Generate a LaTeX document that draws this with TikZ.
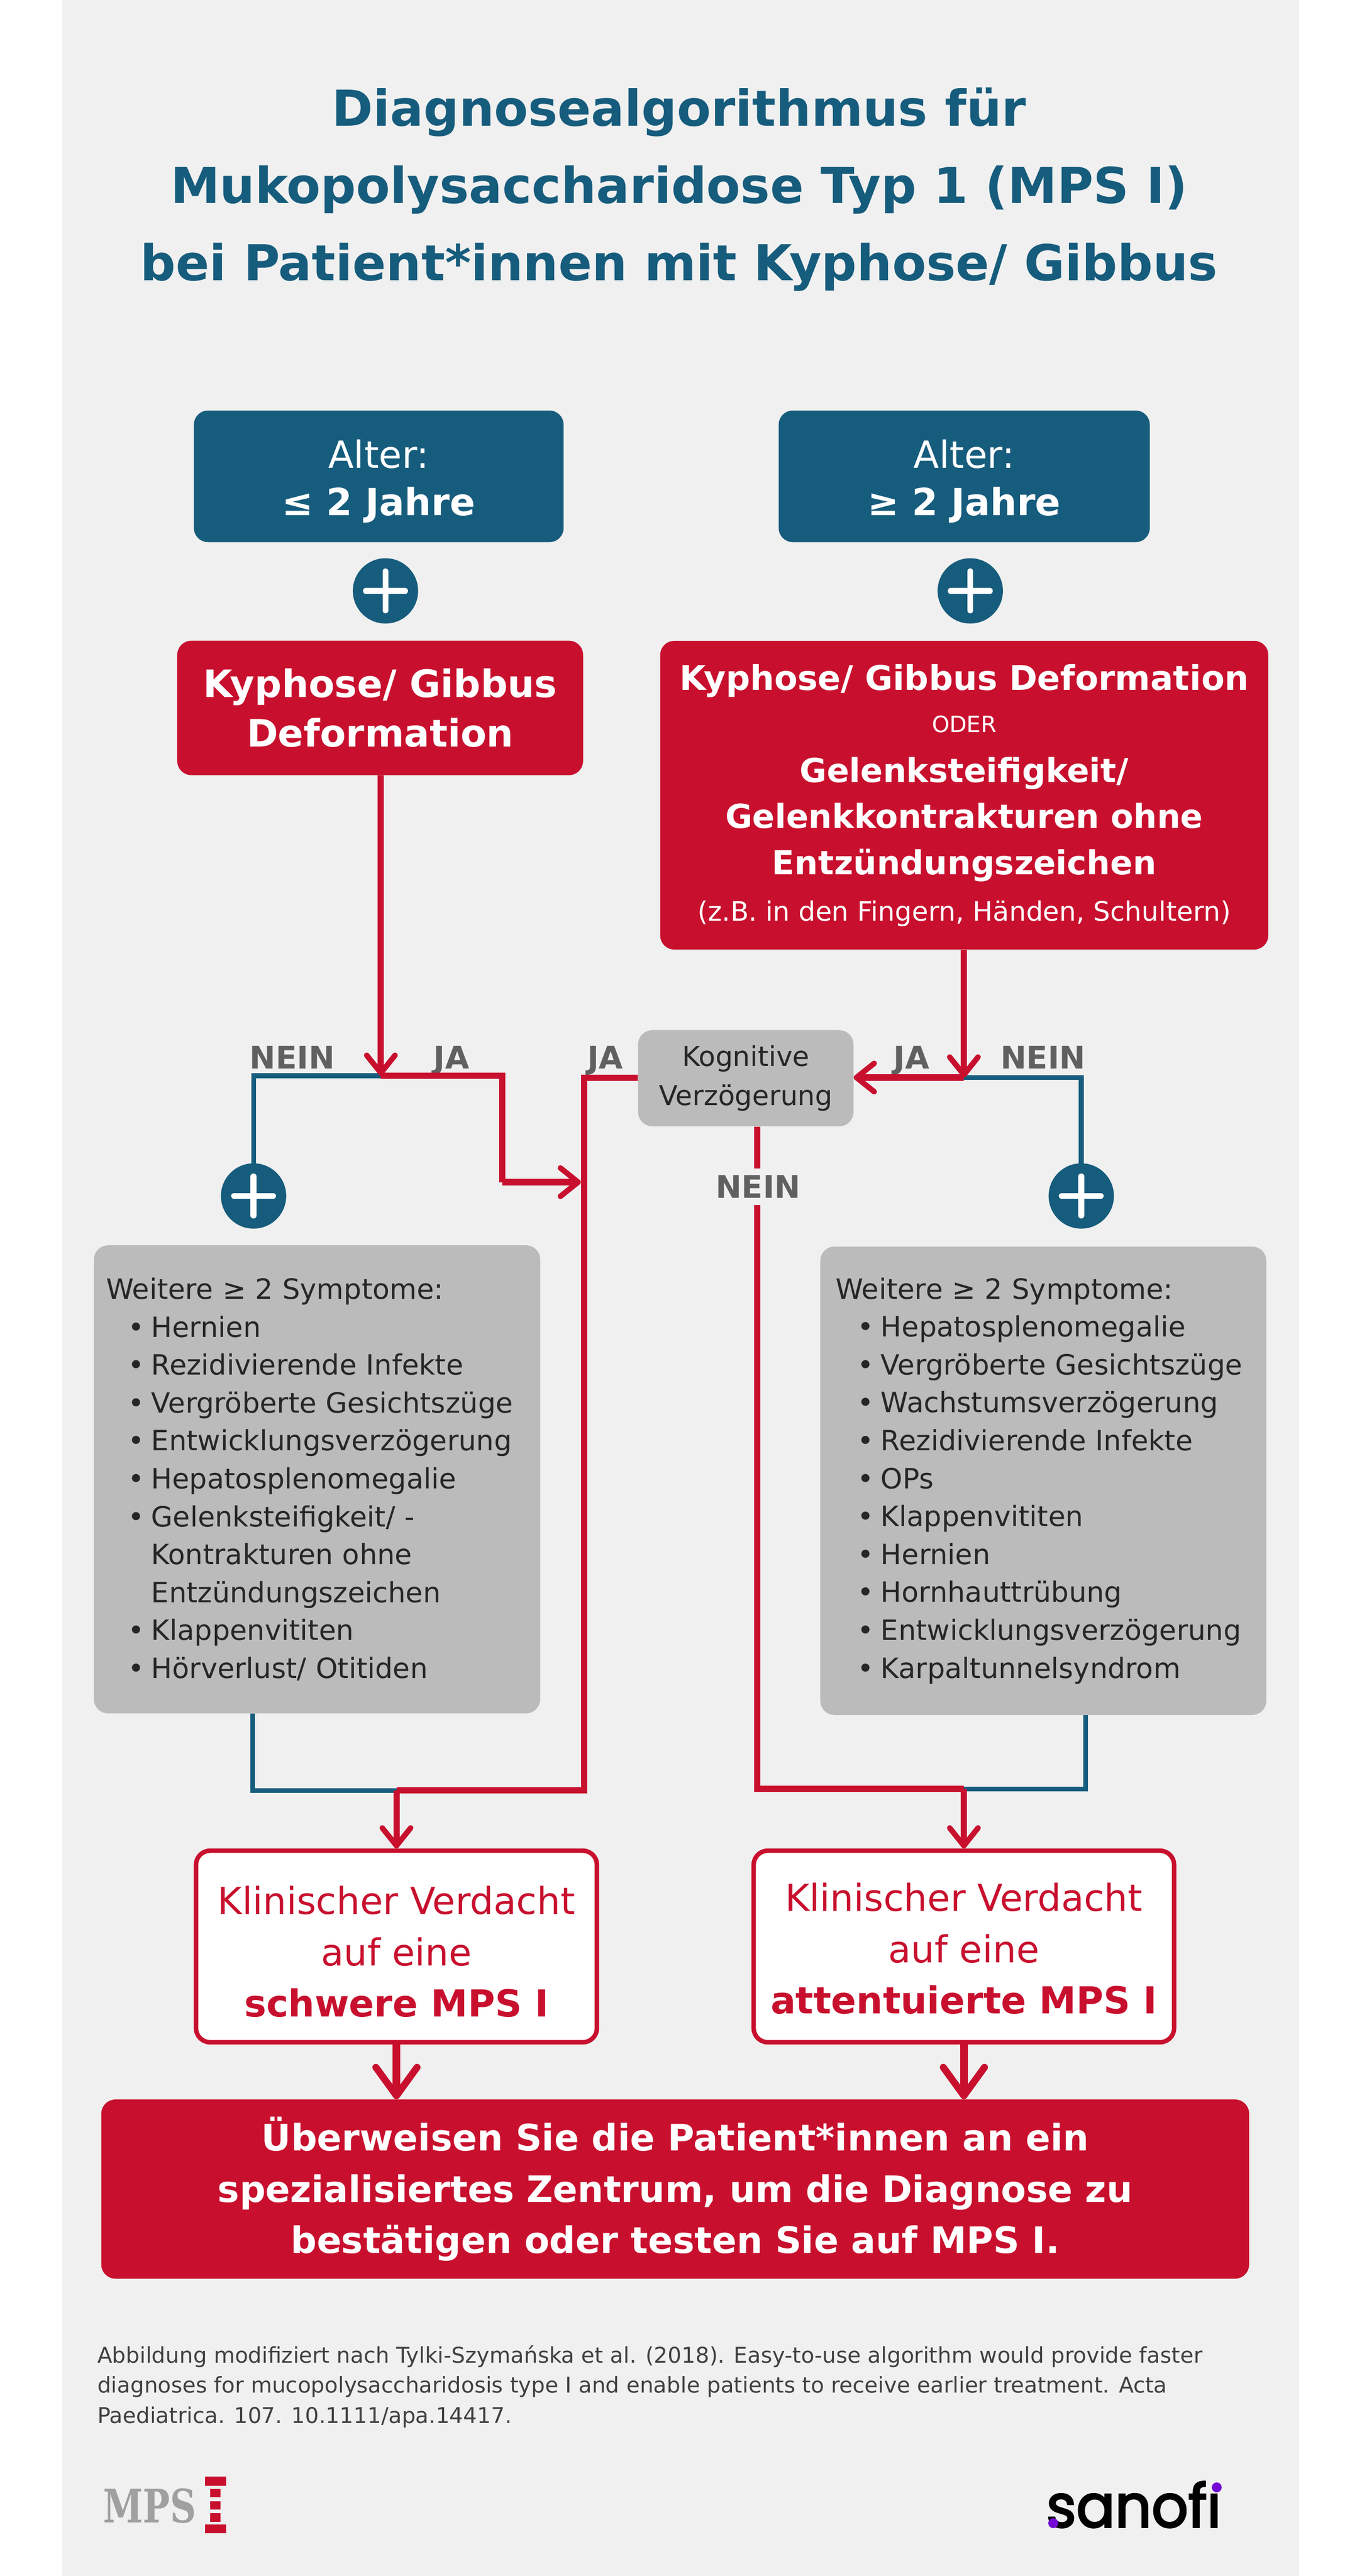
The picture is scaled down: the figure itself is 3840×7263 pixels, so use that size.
\documentclass[tikz,border=0pt]{standalone}
\usepackage{fontspec}
\setmainfont{DejaVu Sans}
\newfontfamily\slabfont{DejaVu Serif}
\newfontfamily\brandfont{Poppins}[FakeBold=3]
\usetikzlibrary{arrows.meta,positioning,calc}
\definecolor{mpsblue}{HTML}{165C7D}
\definecolor{mpsred}{HTML}{C8102E}
\definecolor{mpsgray}{HTML}{BBBBBB}
\definecolor{mpspanel}{HTML}{F0F0F0}
\definecolor{mpslabel}{HTML}{606060}
\definecolor{mpslogo}{HTML}{A0A0A0}
\definecolor{mpsviolet}{HTML}{7209D4}
\newcommand{\fs}[2]{\fontsize{#1}{#2}\selectfont}
\newcommand{\dn}[1]{\rule{0pt}{#1}}
\newcommand{\li}{\par\hangindent=1.27cm\hangafter=0\leavevmode\llap{\textbullet\hspace{0.2cm}}\ignorespaces}
\tikzset{
  headbox/.style={fill=#1, rounded corners=0.4cm, text=white, align=center, inner sep=0pt},
  graybox/.style={fill=mpsgray, rounded corners=0.4cm, text=black!85, inner sep=0pt},
  listbox/.style={graybox, text width=11.88cm, align=left, font=\fs{22.4}{30.4}},
  whitebox/.style={draw=mpsred, fill=white, line width=3.6pt, rounded corners=0.4cm, text=mpsred, align=center, inner sep=0pt},
  plusnode/.style={circle, fill=mpsblue, minimum size=1.84cm, inner sep=0pt,
    path picture={\draw[white, line width=4.8pt, line cap=round]
      ($(path picture bounding box.center)+(-55,0)$) -- ($(path picture bounding box.center)+(55,0)$)
      ($(path picture bounding box.center)+(0,-55)$) -- ($(path picture bounding box.center)+(0,55)$);}},
  answer/.style={text=mpslabel, font=\fs{25}{28}\bfseries, inner xsep=0pt, inner ysep=0.18cm, text height=18.5pt, text depth=0pt},
  redline/.style={draw=mpsred, line width=5pt},
  blueline/.style={draw=mpsblue, line width=3.8pt},
  redarrow/.style={redline, -{Straight Barb[length=0.5cm, width=0.8cm, line width=4.4pt, round]}},
  bigarrow/.style={draw=mpsred, line width=6.2pt, -{Straight Barb[length=0.8cm, width=1.16cm, line width=5.6pt, round]}}
}
\begin{document}
\begin{tikzpicture}[x=0.01cm,y=-0.01cm]
  \useasboundingbox (0,0) rectangle (3840,7263);
  \fill[white] (0,0) rectangle (3840,7263);
  \fill[mpspanel] (176,0) rectangle (3664,7263);
  % title
  \node[text=mpsblue, font=\fs{39.7}{62}\bfseries, align=center, inner sep=0pt] (title) at (1915,534)
    {Diagnosealgorithmus für\\Mukopolysaccharidose Typ 1 (MPS I)\\bei Patient*innen mit Kyphose/ Gibbus};
  % two age columns
  \node[headbox=mpsblue, minimum width=10.42cm, minimum height=3.71cm, font=\fs{30}{38}] (alterL) at (1068,1343)
    {\dn{31pt}Alter:\\\textbf{≤ 2 Jahre}};
  \node[headbox=mpsblue, minimum width=10.46cm, minimum height=3.71cm, font=\fs{30}{38}] (alterR) at (2719,1343)
    {\dn{31pt}Alter:\\\textbf{≥ 2 Jahre}};
  \node[plusnode] (plusA) at (1087,1666) {};
  \node[plusnode] (plusB) at (2736,1666) {};
  \node[headbox=mpsred, minimum width=11.44cm, minimum height=3.79cm, font=\fs{30.3}{39.5}\bfseries] (kyphL) at (1072,1996)
    {Kyphose/ Gibbus\\Deformation};
  \node[headbox=mpsred, minimum width=17.14cm, minimum height=8.7cm, font=\fs{26.5}{37}\bfseries] (kyphR) at (2719,2242)
    {{\fs{27.2}{37}Kyphose/ Gibbus Deformation}\\[-3pt]{\fs{18}{37}\mdseries ODER}\\[3pt]Gelenksteifigkeit/\\Gelenkkontrakturen ohne\\Entzündungszeichen\\{\fs{21.4}{37}\mdseries (z.B. in den Fingern, Händen, Schultern)}};
  \node[graybox, align=center, minimum width=6.07cm, minimum height=2.71cm, font=\fs{22}{31}] (kog) at (2103,3040)
    {Kognitive\\Verzögerung};
  % symptom lists
  \node[listbox, minimum width=12.58cm, minimum height=13.19cm] (listL) at (894,4171)
    {\parindent=0pt Weitere ≥ 2 Symptome:
     \li Hernien
     \li Rezidivierende Infekte
     \li Vergröberte Gesichtszüge
     \li Entwicklungsverzögerung
     \li Hepatosplenomegalie
     \li Gelenksteifigkeit/ -\par\hangindent=1.27cm\hangafter=0 Kontrakturen ohne\par\hangindent=1.27cm\hangafter=0 Entzündungszeichen
     \li Klappenvititen
     \li Hörverlust/ Otitiden\par};
  \node[listbox, text width=11.7cm, minimum width=12.57cm, minimum height=13.2cm] (listR) at (2942,4175)
    {\parindent=0pt Weitere ≥ 2 Symptome:
     \li Hepatosplenomegalie
     \li Vergröberte Gesichtszüge
     \li Wachstumsverzögerung
     \li Rezidivierende Infekte
     \li OPs
     \li Klappenvititen
     \li Hernien
     \li Hornhauttrübung
     \li Entwicklungsverzögerung
     \li Karpaltunnelsyndrom\par};
  % results
  \node[whitebox, minimum width=11.3cm, minimum height=5.4cm, font=\fs{29.8}{41}] (klinL) at (1118,5488)
    {\dn{31pt}Klinischer Verdacht\\auf eine\\\textbf{schwere MPS I}};
  \node[whitebox, minimum width=11.85cm, minimum height=5.4cm, font=\fs{29.8}{41}] (klinR) at (2718,5488)
    {\dn{26pt}Klinischer Verdacht\\auf eine\\\textbf{attentuierte MPS I}};
  \node[headbox=mpsred, minimum width=32.35cm, minimum height=5.05cm, font=\fs{29.2}{41}\bfseries] (refer) at (1904,6172)
    {\dn{25pt}Überweisen Sie die Patient*innen an ein\\spezialisiertes Zentrum, um die Diagnose zu\\bestätigen oder testen Sie auf MPS I.};
  % answers
  \node[answer] (neinA) at (824,2981) {NEIN};
  \node[answer] (jaA) at (1273,2981) {JA};
  \node[answer] (jaK) at (1707,2981) {JA};
  \node[answer] (jaB) at (2570,2981) {JA};
  \node[answer] (neinB) at (2941,2981) {NEIN};
  \node[answer] (neinK) at (2138,3346) {NEIN};
  % connectors
  \coordinate (splitA) at (1074,3033);
  \coordinate (blueA) at (715,3033);
  \coordinate (jaTurnA) at (1416,3033);
  \coordinate (jaDownA) at (1416,3333);
  \coordinate (trunkTop) at (1647,3039);
  \coordinate (trunkIn) at (1638,3333);
  \coordinate (trunkEnd) at (1647,5048);
  \coordinate (joinL) at (1118,5048);
  \coordinate (blueL) at (712,5048);
  \coordinate (splitB) at (2718,3038);
  \coordinate (blueB) at (3049,3038);
  \coordinate (neinEnd) at (2135,5044);
  \coordinate (joinR) at (2718,5044);
  \coordinate (blueR) at (3061,5044);
  \node[plusnode] (plusC) at (715,3372) {};
  \node[plusnode] (plusD) at (3049,3372) {};
  \draw[blueline] (splitA) -- (blueA) -- (plusC);
  \draw[blueline] (splitB) -- (blueB) -- (plusD);
  \draw[blueline] (listL.south -| blueL) -- (blueL) -- (joinL);
  \draw[blueline] (listR.south -| blueR) -- (blueR) -- (joinR);
  \draw[redarrow] (kyphL.south -| splitA) -- (splitA);
  \draw[redarrow] (kyphR.south -| splitB) -- (splitB);
  \draw[redline] (splitA) -- (jaTurnA) -- (jaDownA);
  \draw[redarrow] (jaDownA) -- (trunkIn);
  \draw[redarrow] (splitB) -- (kog.east |- splitB);
  \draw[redline] (kog.west |- trunkTop) -- (trunkTop) -- (trunkEnd) -- (joinL);
  \draw[redline] (kog.south -| neinEnd) -- (neinK.north -| neinEnd);
  \draw[redline] (neinK.south -| neinEnd) -- (neinEnd) -- (joinR);
  \draw[redarrow] (joinL) -- (klinL.north);
  \draw[redarrow] (joinR) -- (klinR.north);
  \draw[bigarrow] (klinL.south) -- (refer.north -| klinL.south);
  \draw[bigarrow] (klinR.south) -- (refer.north -| klinR.south);
  % source
  \node[anchor=north west, align=left, inner sep=0pt, text=black!75, font=\fs{17.4}{24.2}] (source) at (274,6612)
    {Abbildung modifiziert nach Tylki-Szymańska et al. (2018). Easy-to-use algorithm would provide faster\\diagnoses for mucopolysaccharidosis type I and enable patients to receive earlier treatment. Acta\\Paediatrica. 107. 10.1111/apa.14417.};
  % logos
  \node[anchor=base west, inner sep=0pt, text=mpslogo, font=\slabfont\fs{37}{37}\bfseries] (mps) at (290,7112) {\scalebox{0.78}[1]{MPS}};
  \fill[mpsred] (578,6982) rectangle (638,7008);
  \fill[mpsred] (578,7118) rectangle (638,7143);
  \foreach \y in {7017,7052,7086}
    \fill[mpsred] (593,\y) rectangle (622,\y+24);
  \node[anchor=base west, inner sep=0pt, text=black, font=\brandfont\fs{47.8}{48}] (sanofi) at (2950,7125) {\scalebox{0.96}[1]{sanof\kern0pt i}};
  \fill[mpspanel] (3431,7003) circle (24);
  \fill[mpsviolet] (3431,7013) circle (14);
  \fill[mpsviolet] (2970,7114) circle (14);
\end{tikzpicture}
\end{document}
